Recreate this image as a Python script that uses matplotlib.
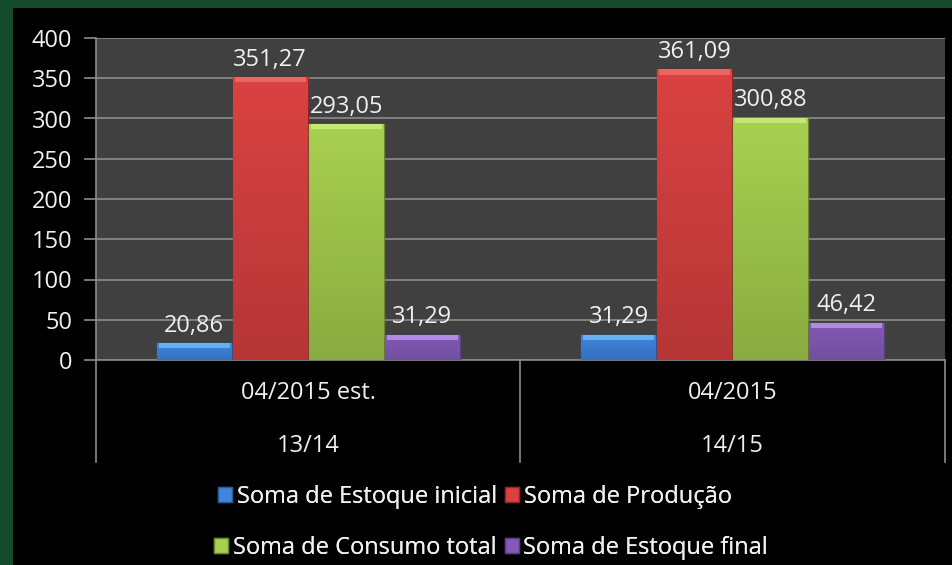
import numpy as np
import matplotlib
matplotlib.use('Agg')
import matplotlib.pyplot as plt
from matplotlib.patches import Rectangle, Patch
from matplotlib.colors import LinearSegmentedColormap
from matplotlib.transforms import blended_transform_factory

plt.rcParams['font.family'] = ['Open Sans', 'DejaVu Sans']

# dados
periodos = ['04/2015 est.', '04/2015']
safras = ['13/14', '14/15']
series = ['Soma de Estoque inicial', 'Soma de Produção',
          'Soma de Consumo total', 'Soma de Estoque final']
estoque_inicial = [20.86, 31.29]
producao = [351.27, 361.09]
consumo_total = [293.05, 300.88]
estoque_final = [31.29, 46.42]
valores = [estoque_inicial, producao, consumo_total, estoque_final]

# (base escura, base clara, topo do bisel, borda)
cores_baixo = ['#3470bf', '#b63636', '#8aab40', '#7050a0']
cores_cima = ['#3f86dc', '#da4242', '#a8d050', '#8458b4']
cores_topo = ['#66b0f4', '#ec6464', '#c4e878', '#b08ae4']
cores_borda = ['#2a5a98', '#8a2828', '#6a8630', '#54407a']

fs = 17
fig = plt.figure(figsize=(9.53, 5.65), dpi=100)
fig.patch.set_facecolor('#124a2b')
# painel preto
fig.patches.append(Rectangle((13 / 953, 0), 1 - 13 / 953, 557 / 565,
                             transform=fig.transFigure, facecolor='black',
                             edgecolor='none', zorder=-5))

ax = fig.add_axes([96 / 953, 1 - 360 / 565, 849 / 953, 322 / 565])
ax.set_facecolor('#404040')

x = np.arange(len(periodos))
w = 0.179
bisel = 6.5
grad = np.linspace(0, 1, 100).reshape(-1, 1)
for i, vals in enumerate(valores):
    pos = x + (i - 1.5) * w
    cmap = LinearSegmentedColormap.from_list('g%d' % i, [cores_baixo[i], cores_cima[i]])
    barras = ax.bar(pos, vals, w * 0.985, color=cores_cima[i],
                    edgecolor=cores_borda[i], linewidth=1.0, zorder=3)
    for b in barras:
        bx, by = b.get_x(), b.get_height()
        im = ax.imshow(grad, extent=[bx, bx + b.get_width(), 0, by], origin='lower',
                       aspect='auto', cmap=cmap, zorder=3.5)
        im.set_clip_path(b)
    ax.bar(pos, bisel, w * 0.93, bottom=np.array(vals) - bisel, color=cores_topo[i],
           edgecolor='none', zorder=4)
    for p, v in zip(pos, vals):
        ax.annotate(f'{v:.2f}'.replace('.', ','), (p, v), xytext=(0, 4),
                    textcoords='offset points', ha='center', va='bottom',
                    color='#f0f0f0', fontsize=fs)

ax.set_xlim(-0.5, 1.5)
ax.set_ylim(0, 400)
ax.set_yticks(np.arange(0, 401, 50))
ax.yaxis.grid(True, color='#8c8c8c', linewidth=1.2, zorder=1)
ax.set_axisbelow(True)
ax.tick_params(axis='y', colors='#8c8c8c', labelcolor='#f0f0f0',
               labelsize=fs, length=9, width=1.2, pad=8)
ax.set_xticks([])
for s in ['top', 'right']:
    ax.spines[s].set_visible(False)
ax.spines['bottom'].set_color('#8c8c8c')
ax.spines['bottom'].set_linewidth(1.2)
ax.spines['left'].set_color('#8c8c8c')
ax.spines['left'].set_linewidth(1.2)

# eixo de categorias em dois níveis
tr = blended_transform_factory(ax.transData, ax.transAxes)
for xv in [-0.5, 0.5, 1.5]:
    ax.plot([xv, xv], [0, -0.317], transform=tr, color='#8c8c8c',
            linewidth=1.2, clip_on=False)
for xi, (p, s) in enumerate(zip(periodos, safras)):
    ax.text(xi, -0.103, p, transform=tr, ha='center', va='center',
            color='#f0f0f0', fontsize=fs)
    ax.text(xi, -0.267, s, transform=tr, ha='center', va='center',
            color='#f0f0f0', fontsize=fs)

# legenda em duas linhas
handles = [Patch(facecolor=c, edgecolor=cb) for c, cb in zip(cores_cima, cores_borda)]
for row, (xc, yc) in enumerate([(475 / 953, 1 - 497 / 565), (491 / 953, 1 - 548 / 565)]):
    leg = fig.legend(handles[2 * row:2 * row + 2], series[2 * row:2 * row + 2],
                     loc='center', bbox_to_anchor=(xc, yc),
                     ncol=2, frameon=False, fontsize=fs, labelcolor='#f0f0f0',
                     handlelength=0.6, handleheight=0.6, handletextpad=0.2,
                     columnspacing=0.35)
    fig.add_artist(leg)

fig.savefig('out.png', dpi=100, facecolor=fig.get_facecolor())
